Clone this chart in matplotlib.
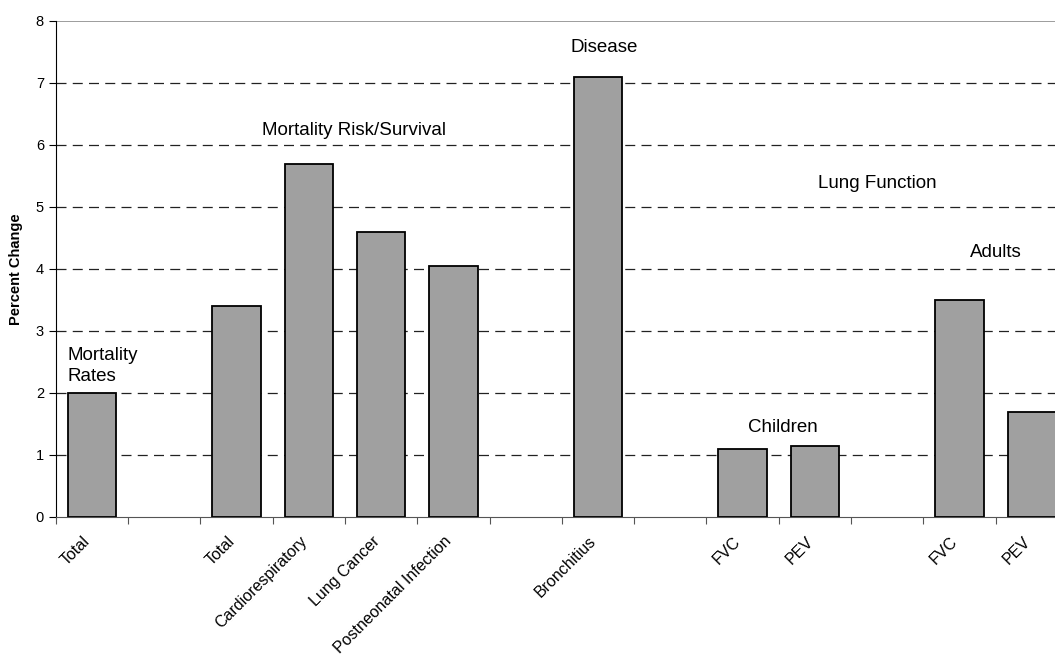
import matplotlib.pyplot as plt

plt.rcParams['font.family'] = ['Liberation Sans', 'DejaVu Sans']

categories = ["Total", "", "Total", "Cardiorespiratory", "Lung Cancer",
              "Postneonatal Infection", "", "Bronchitius", "", "FVC", "PEV",
              "", "FVC", "PEV"]
values = [2.0, None, 3.4, 5.7, 4.6, 4.05, None, 7.1, None, 1.1, 1.15,
          None, 3.5, 1.7]

# group labels: (text, x slot, y value, alignment)
groups = [
    ("Mortality\nRates", -0.33, 2.13, "left"),
    ("Mortality Risk/Survival", 3.63, 6.16, "center"),
    ("Disease", 7.09, 7.5, "center"),
    ("Lung Function", 10.86, 5.3, "center"),
    ("Children", 9.55, 1.37, "center"),
    ("Adults", 12.5, 4.2, "center"),
]

fig = plt.figure(figsize=(10.55, 6.54), dpi=100)
ax = fig.add_axes([55.7 / 1055, 1 - 517 / 654, 1 - 55.7 / 1055, (517 - 21) / 654])

xs = [i for i, v in enumerate(values) if v is not None]
hs = [v for v in values if v is not None]
ax.bar(xs, hs, width=0.67, color="#a0a0a0", edgecolor="black", linewidth=1.3, zorder=3)

for y in range(1, 8):
    ax.axhline(y, color="#222222", lw=0.9, ls=(0, (8, 5)), zorder=1)
ax.axhline(8, color="#8c8c8c", lw=1.2, zorder=1)

# tick marks at slot boundaries, labels near slot centres
ax.set_xticks([i - 0.5 for i in range(len(categories))])
ax.set_xticklabels([])
ax.set_xticks([i - 0.13 for i in range(len(categories))], minor=True)
ax.set_xticklabels(categories, minor=True, rotation=45, ha="right", va="top",
                   rotation_mode="anchor", fontsize=11.5)
ax.tick_params(axis="x", which="minor", length=0, pad=12)
ax.tick_params(axis="x", which="major", length=5, color="#555555", direction="out")
ax.set_yticks(range(9))
ax.tick_params(axis="y", length=5, labelsize=10.5, direction="out")

ax.set_ylim(0, 8)
ax.set_xlim(-0.5, 13.32)

ax.spines["top"].set_visible(False)
ax.spines["right"].set_visible(False)
ax.spines["bottom"].set_color("#555555")
ax.spines["left"].set_color("black")

ax.set_ylabel("Percent Change", fontsize=10.5, fontweight="bold", labelpad=9)

for text, x, y, ha in groups:
    va = "bottom" if "\n" in text else "baseline"
    ax.text(x, y, text, ha=ha, va=va, fontsize=13.5, linespacing=1.33)

fig.savefig("out.png", dpi=100)
